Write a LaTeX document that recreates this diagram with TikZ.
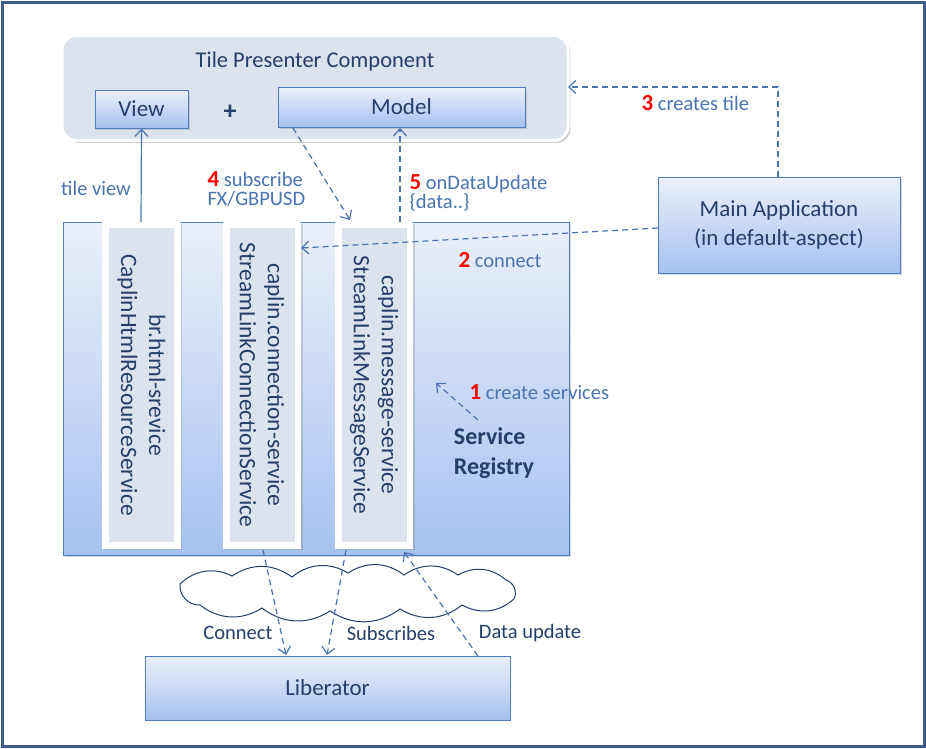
\documentclass[tikz,border=0pt]{standalone}
\usepackage{fontspec}
\setmainfont{Carlito}
\usetikzlibrary{arrows.meta,shadows}
\definecolor{bord}{HTML}{4F7EC0}
\definecolor{txt}{HTML}{243F6A}
\definecolor{lab}{HTML}{4A74B0}
\definecolor{gtop}{HTML}{EBF0FA}
\definecolor{gbot}{HTML}{A6C2F0}
\definecolor{panel}{HTML}{DCE3EE}
\definecolor{outer}{HTML}{3D5C8C}
\begin{document}
\begin{tikzpicture}[x=1pt,y=-1pt,
 box/.style={draw=bord,line width=1pt,top color=gtop,bottom color=gbot,text=txt},
 col/.style={draw=white,line width=1.5pt,fill=white,drop shadow={opacity=0.3}},
 inner/.style={fill=panel},
 lbl/.style={text=lab,font=\fontsize{20.5}{22}\selectfont,align=left},
 da/.style={draw=lab,line width=1.2pt,dash pattern=on 6pt off 4pt,-{Straight Barb[length=7pt,width=13pt]}},
 sa/.style={draw=lab,line width=1.2pt,-{Straight Barb[length=7pt,width=13pt]}}]
\useasboundingbox (0,0) rectangle (926,748);
\draw[outer,line width=3pt,fill=white] (2,2) rectangle (924,746);
% panel
\node[draw=white,line width=3pt,fill=panel,rounded corners=14pt,minimum width=506,minimum height=105,drop shadow={opacity=0.4}] (panel) at (315,88) {};
\node[text=txt,font=\fontsize{22.5}{24}\selectfont] (title) at (315,61) {Tile Presenter Component};
\node[box,minimum width=93,minimum height=38,font=\fontsize{23}{25}\selectfont,drop shadow={opacity=0.3}] (view) at (141.5,109) {View};
\node[text=txt,font=\bfseries\fontsize{26}{28}\selectfont] (plus) at (230,112) {+};
\node[box,minimum width=247,minimum height=40,font=\fontsize{23}{25}\selectfont,drop shadow={opacity=0.3}] (model) at (401.5,107) {Model};
% registry
\node[box,minimum width=506,minimum height=333,drop shadow={opacity=0.3}] (reg) at (316,388.5) {};
\node[text=txt,font=\bfseries\fontsize{24}{30}\selectfont,align=left] (regl) at (494,453) {Service\\Registry};
\foreach \n/\x/\a/\b in {c1/141.5/br.html-srevice/CaplinHtmlResourceService,c2/262/caplin.connection-service/StreamLinkConnectionService,c3/374/caplin.message-service/StreamLinkMessageService}{
 \node[col,minimum width=77,minimum height=326] (\n) at (\x,385) {};
 \node[inner,minimum width=65,minimum height=314] (\n i) at (\x,385) {};
 \node[rotate=-90,text=txt,font=\fontsize{23.5}{28}\selectfont,align=center] (\n t) at (\x,385) {\a\\\b};
}
\node[box,minimum width=242,minimum height=96,font=\fontsize{23}{29}\selectfont,align=center,drop shadow={opacity=0.3}] (main) at (779,225) {Main Application\\(in default-aspect)};
\node[box,minimum width=365,minimum height=64,font=\fontsize{23}{25}\selectfont] (lib) at (327.5,688) {Liberator};
% cloud
\draw[txt,line width=1pt,fill=white] (180,584) to[bend left=35] (232,576) to[bend left=35] (292,577) to[bend left=35] (348,573) to[bend left=35] (404,575) to[bend left=35] (458,575) to[bend left=35] (506,580) to[bend left=50] (514,599) to[bend left=35] (462,605) to[bend left=35] (400,609) to[bend left=35] (330,611) to[bend left=35] (262,608) to[bend left=35] (200,605) to[bend left=50] (180,584) -- cycle;
\node (cloud) at (347,592) {};
% coordinates
\coordinate (m4) at (293,128);
\coordinate (r4) at (350,220);
\coordinate (r5) at (400,222);
\coordinate (m5) at (400,128);
\coordinate (mt) at (778,177);
\coordinate (corner) at (778,87);
\coordinate (pr) at (568,87);
\coordinate (ma) at (658,228);
\coordinate (c2r) at (301,248);
\coordinate (s1a) at (478,420);
\coordinate (s1b) at (436,383);
\coordinate (ca) at (263,550);
\coordinate (cb) at (286,655);
\coordinate (sa) at (346,550);
\coordinate (sb) at (327,655);
\coordinate (da) at (478,656);
\coordinate (db) at (404,552);
\coordinate (tv) at (141,222);
% arrows
\draw[sa] (tv) -- (view.south);
\draw[da] (m4) -- (r4);
\draw[da] (r5) -- (m5);
\draw[da] (mt) -- (corner) -- (pr);
\draw[da] (ma) -- (c2r);
\draw[da] (s1a) -- (s1b);
\draw[da] (ca) -- (cb);
\draw[da] (sa) -- (sb);
\draw[da] (da) -- (db);
% labels
\newcommand\rn[1]{\textcolor{red}{\bfseries\fontsize{23}{25}\selectfont #1}}
\node[lbl] (ltv) at (96,188) {tile view};
\node[lbl,anchor=west] (l4) at (204,189) {\rn{4} subscribe\\[-3pt]FX/GBPUSD};
\node[lbl,anchor=west] (l5) at (406,193) {\rn{5} onDataUpdate\\[-3pt]{\{}data..{\}}};
\node[lbl,anchor=west] (l3) at (638,103) {\rn{3} creates tile};
\node[lbl,anchor=west] (l2) at (455,260) {\rn{2} connect};
\node[lbl,anchor=west] (l1) at (466,392) {\rn{1} create services};
\node[lbl,text=txt] (lc) at (238,633) {Connect};
\node[lbl,text=txt] (ls) at (391,633) {Subscribes};
\node[lbl,text=txt] (ld) at (530,633) {Data update};
\end{tikzpicture}
\end{document}
